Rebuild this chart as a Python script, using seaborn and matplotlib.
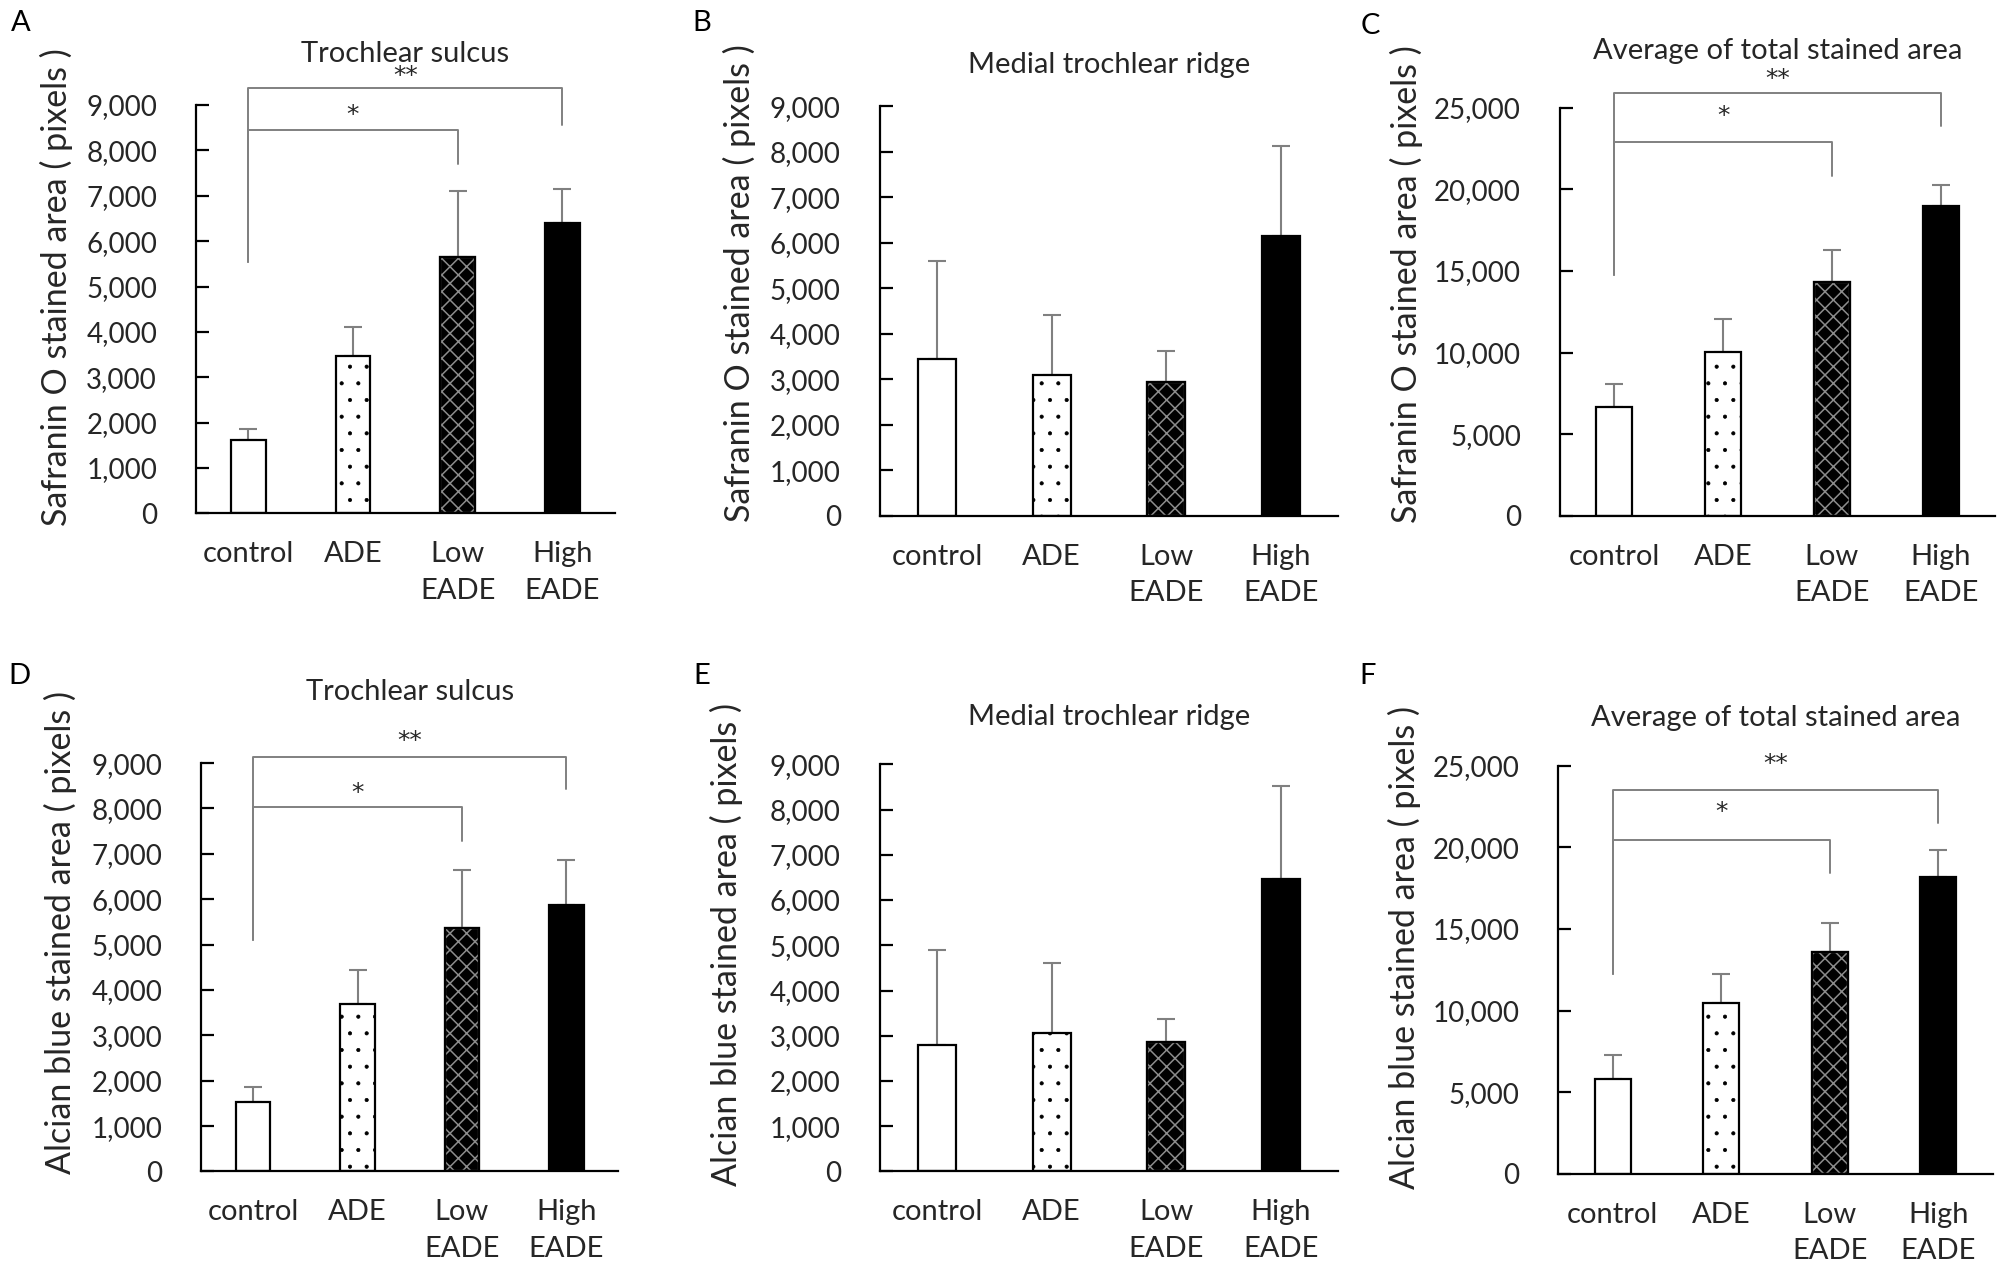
import numpy as np
import pandas as pd
import seaborn as sns
import matplotlib.pyplot as plt
from matplotlib.patches import Rectangle
from matplotlib.ticker import FuncFormatter

# ======================
# --- Data ---
# ======================
groups = ['control', 'ADE', 'Low\nEADE', 'High\nEADE']

# Safranin O
mean_A = [1620, 3470, 5660, 6400]
sd_A = [240, 630, 1440, 740]
mean_B = [3440, 3100, 2950, 6150]
sd_B = [2170, 1320, 665, 1970]
mean_C = [6700, 10050, 14300, 18950]
sd_C = [1350, 2000, 2000, 1300]

# Alcian blue
mean_D = [1520, 3690, 5360, 5870]
sd_D = [330, 750, 1290, 990]
mean_E = [2800, 3070, 2860, 6460]
sd_E = [2100, 1530, 520, 2060]
mean_F = [5840, 10450, 13600, 18210]
sd_F = [1450, 1820, 1740, 1620]

# significance: (label, right group, bracket y, left leg end, right leg end, star y)
sig_A = [('**', 3, 9370, 5540, 8560, 9640), ('*', 2, 8440, 5540, 7700, 8780)]
sig_C = [('**', 3, 25875, 14750, 23900, 26750), ('*', 2, 22875, 14750, 20800, 24500)]
sig_D = [('**', 3, 9125, 5090, 8420, 9480), ('*', 2, 8030, 5090, 7280, 8350)]
sig_F = [('**', 3, 23500, 12270, 21500, 25125), ('*', 2, 20450, 12270, 18430, 22180)]

titles = ['Trochlear sulcus', 'Medial trochlear ridge', 'Average of total stained area']
ylab_saf = 'Safranin O stained area ( pixels )'
ylab_alc = 'Alcian blue stained area ( pixels )'

# ======================
# --- Style ---
# ======================
sns.set_theme(style='white')
plt.rcParams['font.family'] = ['Lato', 'DejaVu Sans']
plt.rcParams['hatch.linewidth'] = 1.0
txt = '#262626'
grey = '#808080'
bar_colors = ['white', 'white', 'black', 'black']
bar_hatches = ['', '.', 'xx', '']

fig = plt.figure(figsize=(20.08, 12.79), dpi=100)

# letter, axes rect, title, title y, ylabel, label coords, means, sds, ymax, step, brackets, letter pos
panels = [
    ('A', [0.0976, 0.5986, 0.2085, 0.3193], titles[0], 1.125, ylab_saf, (-0.333, 0.555),
     mean_A, sd_A, 9000, 1000, sig_A, (0.0102, 0.982)),
    ('B', [0.4381, 0.5966, 0.2283, 0.3203], titles[1], 1.10, ylab_saf, (-0.307, 0.569),
     mean_B, sd_B, 9000, 1000, [], (0.3495, 0.982)),
    ('C', [0.7768, 0.5966, 0.2168, 0.3193], titles[2], 1.138, ylab_saf, (-0.353, 0.567),
     mean_C, sd_C, 25000, 5000, sig_C, (0.6824, 0.980)),
    ('D', [0.1001, 0.0841, 0.2079, 0.3193], titles[0], 1.175, ylab_alc, (-0.337, 0.586),
     mean_D, sd_D, 9000, 1000, sig_D, (0.0096, 0.4715)),
    ('E', [0.4381, 0.0841, 0.2283, 0.3183], titles[1], 1.116, ylab_alc, (-0.335, 0.557),
     mean_E, sd_E, 9000, 1000, [], (0.3495, 0.4715)),
    ('F', [0.7761, 0.0821, 0.2162, 0.3193], titles[2], 1.116, ylab_alc, (-0.354, 0.555),
     mean_F, sd_F, 25000, 5000, sig_F, (0.6811, 0.4715)),
]

for letter, rect, title, ty, ylab, lab_xy, means, sds, ymax, step, sigs, lpos in panels:
    ax = fig.add_axes(rect)
    df = pd.DataFrame({'group': groups, 'mean': means, 'sd': sds})
    sns.barplot(data=df, x='group', y='mean', hue='group', palette=bar_colors,
                width=0.33, edgecolor='black', linewidth=1.6, errorbar=None,
                legend=False, ax=ax, zorder=2)

    for bar, hatch in zip(ax.patches, bar_hatches):
        if hatch == 'xx':
            # hatch takes the edge colour, so draw a black outline on top
            bar.set_hatch(hatch)
            bar.set_edgecolor('#8c8c8c')
            if hasattr(bar, 'set_hatch_linewidth'):
                bar.set_hatch_linewidth(1.1)
            ax.add_patch(Rectangle(bar.get_xy(), bar.get_width(), bar.get_height(),
                                   fill=False, edgecolor='black', linewidth=1.6, zorder=3))
        elif hatch:
            bar.set_hatch(hatch)
            if hasattr(bar, 'set_hatch_linewidth'):
                bar.set_hatch_linewidth(0.5)

    ax.errorbar(np.arange(len(groups)), df['mean'], yerr=[np.zeros(len(groups)), df['sd']],
                fmt='none', ecolor=grey, elinewidth=1.5, capsize=6.5, capthick=1.5, zorder=1)

    # significance brackets
    for lab, right, yb, yl, yr, ys in sigs:
        ax.plot([0, 0, right, right], [yl, yb, yb, yr], color=grey, lw=1.4, clip_on=False, zorder=1)
        ax.text(right / 2, ys, lab, ha='center', va='center', fontsize=18, color=txt,
                family='DejaVu Sans', clip_on=False)

    ax.set_xlim(-0.5, 3.5)
    ax.set_ylim(0, ymax)
    ax.set_yticks(np.arange(0, ymax + 1, step))
    ax.yaxis.set_major_formatter(FuncFormatter(lambda v, p: f'{v:,.0f}'))
    sns.despine(ax=ax)
    for s in ['left', 'bottom']:
        ax.spines[s].set_color('black')
        ax.spines[s].set_linewidth(1.6)
    ax.tick_params(axis='y', direction='in', length=9, width=1.6, color='black',
                   labelsize=20, labelcolor=txt, pad=28, left=True)
    ax.tick_params(axis='x', length=0, labelsize=21, labelcolor=txt, pad=20)
    for t in ax.get_xticklabels():
        t.set_linespacing(1.5)

    ax.set_xlabel('')
    ax.set_ylabel(ylab, fontsize=24.5, color=txt)
    ax.yaxis.set_label_coords(*lab_xy)
    ax.yaxis.label.set_va('center')

    ax.text(0.5, ty, title, transform=ax.transAxes, ha='center', va='center', fontsize=21, color=txt)
    fig.text(lpos[0], lpos[1], letter, ha='center', va='center', fontsize=21, color='black')

fig.savefig('out.png', dpi=100, facecolor='white')
